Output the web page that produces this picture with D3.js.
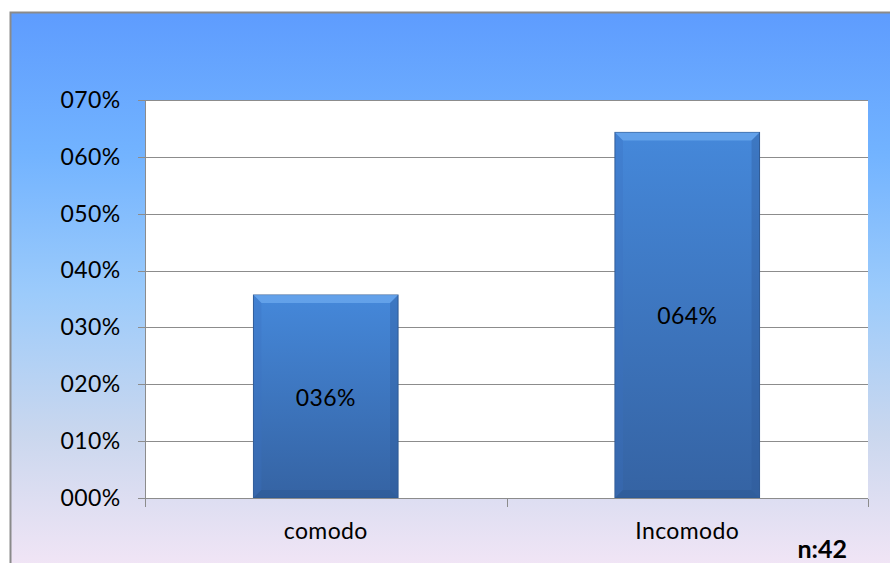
<!DOCTYPE html>
<html lang="es">
<head>
<meta charset="UTF-8"/>
<title>Comodo / Incomodo</title>
<script src="https://d3js.org/d3.v7.min.js"></script>
<style>
	body { margin: 0; background: #fff; }
	.axis text { font-family: Lato, "Open Sans", sans-serif; font-size: 23px; letter-spacing: 0.4px; fill: #000; }
	.axis path, .axis line { stroke: #8c8c8c; shape-rendering: crispEdges; }
	.grid line { stroke: #8c8c8c; shape-rendering: crispEdges; }
	.valLabel { font-family: Lato, "Open Sans", sans-serif; font-size: 23px; letter-spacing: 0.4px; fill: #000; }
	.nLabel { font-family: Lato, "Open Sans", sans-serif; font-size: 25px; font-weight: bold; }
</style>
</head>
<body>
<div id="chart"></div>
<script>
	// data
	var categories = ["comodo", "Incomodo"];
	var values = [0.357, 0.643];
	var yTicks = [0, 0.1, 0.2, 0.3, 0.4, 0.5, 0.6, 0.7];
	var note = "n:42";

	var w = 890, h = 563;
	var pLeft = 145, pRight = 868, pTop = 100, pBottom = 498;

	var svg = d3.select("#chart").append("svg")
		.attr("width", w)
		.attr("height", h);

	var defs = svg.append("defs");
	var bg = defs.append("linearGradient").attr("id", "bg")
		.attr("x1", 0).attr("y1", 0).attr("x2", 0).attr("y2", 1);
	bg.append("stop").attr("offset", "0%").attr("stop-color", "#5e9cfe");
	bg.append("stop").attr("offset", "25%").attr("stop-color", "#72b3ff");
	bg.append("stop").attr("offset", "50%").attr("stop-color", "#9ccbfb");
	bg.append("stop").attr("offset", "75%").attr("stop-color", "#cad7ee");
	bg.append("stop").attr("offset", "100%").attr("stop-color", "#f4e6f6");

	var barGrad = defs.append("linearGradient").attr("id", "barGrad")
		.attr("x1", 0).attr("y1", 0).attr("x2", 0).attr("y2", 1);
	barGrad.append("stop").attr("offset", "0%").attr("stop-color", "#4588da");
	barGrad.append("stop").attr("offset", "100%").attr("stop-color", "#3563a3");

	// outer chart frame (cropped at right and bottom)
	svg.append("rect")
		.attr("x", 10.5).attr("y", 12.5)
		.attr("width", w).attr("height", h)
		.attr("fill", "url(#bg)")
		.attr("stroke", "#8a8a8a")
		.attr("stroke-width", 2);

	svg.append("rect")
		.attr("x", pLeft).attr("y", pTop)
		.attr("width", pRight - pLeft).attr("height", pBottom - pTop)
		.attr("fill", "#fff");

	var xScale = d3.scaleBand()
		.domain(categories)
		.range([pLeft, pRight])
		.paddingInner(0.6)
		.paddingOuter(0.3);

	var yScale = d3.scaleLinear()
		.domain([0, 0.7])
		.range([pBottom, pTop]);

	var fmt = function(d) { return "0" + d3.format("02d")(Math.round(d * 100)) + "%"; };

	svg.append("g")
		.attr("class", "grid")
		.selectAll("line")
		.data(yTicks.slice(1))
		.enter().append("line")
		.attr("x1", pLeft).attr("x2", pRight)
		.attr("y1", function(d) { return Math.round(yScale(d)) + 0.5; })
		.attr("y2", function(d) { return Math.round(yScale(d)) + 0.5; });

	// bars
	var bars = svg.append("g").selectAll("g")
		.data(values)
		.enter().append("g");

	bars.append("rect")
		.attr("x", function(d, i) { return xScale(categories[i]); })
		.attr("y", function(d) { return yScale(d); })
		.attr("width", xScale.bandwidth())
		.attr("height", function(d) { return pBottom - yScale(d); })
		.attr("fill", "url(#barGrad)")
		.attr("stroke", "#2f5a93")
		.attr("stroke-width", 1);

	// bevel: light top edge, slightly darker sides
	var bev = 8;
	bars.append("polygon")
		.attr("points", function(d, i) {
			var x0 = xScale(categories[i]), x1 = x0 + xScale.bandwidth(), y0 = yScale(d);
			return [[x0, y0], [x1, y0], [x1 - bev, y0 + bev], [x0 + bev, y0 + bev]].join(" ");
		})
		.attr("fill", "#6aa8ee").attr("opacity", 0.8);
	bars.append("polygon")
		.attr("points", function(d, i) {
			var x0 = xScale(categories[i]), y0 = yScale(d);
			return [[x0, y0], [x0 + bev, y0 + bev], [x0 + bev, pBottom - bev], [x0, pBottom]].join(" ");
		})
		.attr("fill", "#3a72c0").attr("opacity", 0.3);
	bars.append("polygon")
		.attr("points", function(d, i) {
			var x1 = xScale(categories[i]) + xScale.bandwidth(), y0 = yScale(d);
			return [[x1, y0], [x1 - bev, y0 + bev], [x1 - bev, pBottom - bev], [x1, pBottom]].join(" ");
		})
		.attr("fill", "#2d5a98").attr("opacity", 0.35);
	bars.append("polygon")
		.attr("points", function(d, i) {
			var x0 = xScale(categories[i]), x1 = x0 + xScale.bandwidth();
			return [[x0, pBottom], [x1, pBottom], [x1 - bev, pBottom - bev], [x0 + bev, pBottom - bev]].join(" ");
		})
		.attr("fill", "#2b568f").attr("opacity", 0.4);

	bars.append("text")
		.attr("class", "valLabel")
		.attr("x", function(d, i) { return xScale(categories[i]) + xScale.bandwidth() / 2; })
		.attr("y", function(d) { return (yScale(d) + pBottom) / 2 + 9; })
		.attr("text-anchor", "middle")
		.text(fmt);

	// axes
	var yAxis = d3.axisLeft(yScale)
		.tickValues(yTicks)
		.tickFormat(fmt)
		.tickSize(8)
		.tickPadding(17);

	svg.append("g")
		.attr("class", "axis")
		.attr("transform", "translate(" + (pLeft + 0.5) + ",0)")
		.call(yAxis)
		.call(function(g) { g.select(".domain").attr("d", "M0," + pTop + "V" + pBottom); });

	var xAxis = d3.axisBottom(xScale)
		.tickSize(0)
		.tickPadding(20);

	var gx = svg.append("g")
		.attr("class", "axis")
		.attr("transform", "translate(0," + (pBottom + 0.5) + ")")
		.call(xAxis);
	gx.select(".domain").attr("d", "M" + pLeft + ",0H" + pRight);
	gx.selectAll(".tick text").attr("dy", "0.9em");

	// category boundary ticks
	var bounds = [pLeft, xScale(categories[1]) - xScale.step() * xScale.paddingInner() / 2, pRight];
	gx.selectAll(".bound")
		.data(bounds)
		.enter().append("line")
		.attr("class", "bound")
		.attr("x1", function(d) { return Math.round(d) + 0.5; })
		.attr("x2", function(d) { return Math.round(d) + 0.5; })
		.attr("y1", 0).attr("y2", 8);

	svg.append("text")
		.attr("class", "nLabel")
		.attr("x", 847).attr("y", 558)
		.attr("text-anchor", "end")
		.text(note);
</script>
</body>
</html>
